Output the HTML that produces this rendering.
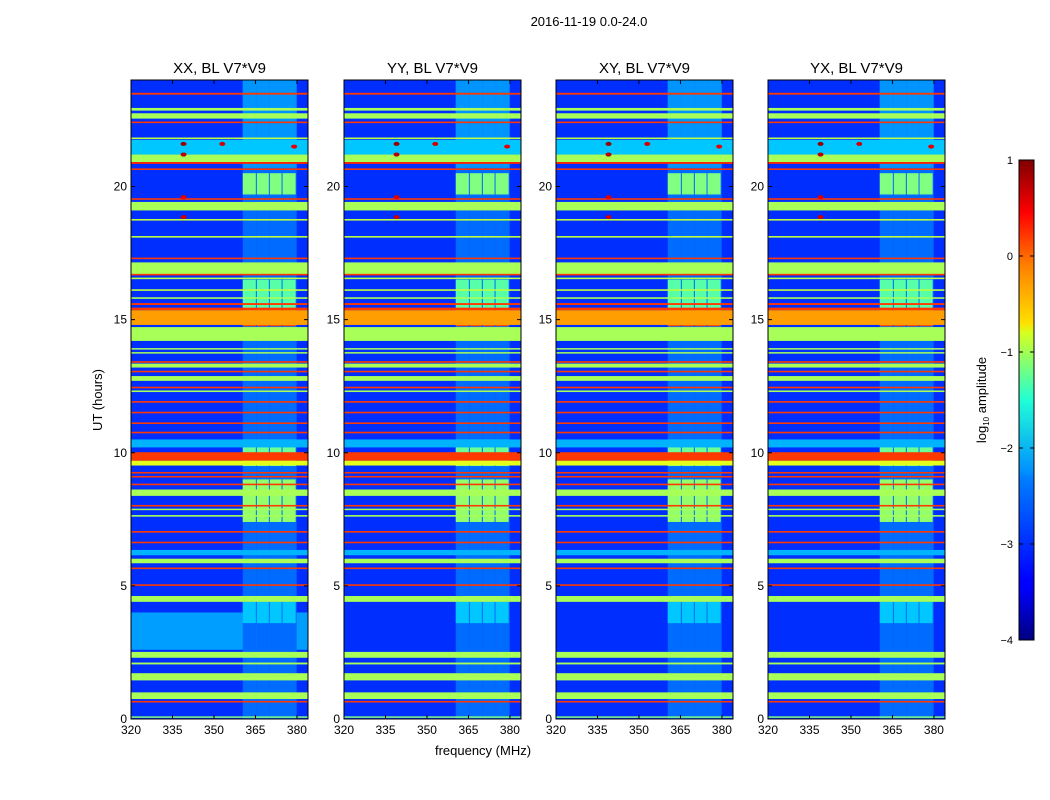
<!DOCTYPE html>
<html><head><meta charset="utf-8"><style>
html,body{margin:0;padding:0;background:#fff;}
svg{display:block;font-family:"Liberation Sans",sans-serif;}
</style></head><body>
<svg id="fig" width="1050" height="800" viewBox="0 0 1050 800">
<defs>
<linearGradient id="jet" x1="0" y1="1" x2="0" y2="0">
<stop offset="0" stop-color="#000080"/><stop offset="0.11" stop-color="#0000ff"/>
<stop offset="0.125" stop-color="#0000ff"/><stop offset="0.34" stop-color="#0080ff"/>
<stop offset="0.35" stop-color="#0090ff"/><stop offset="0.5" stop-color="#20ffd6"/>
<stop offset="0.64" stop-color="#d6ff20"/><stop offset="0.66" stop-color="#ffe000"/>
<stop offset="0.78" stop-color="#ff8000"/><stop offset="0.89" stop-color="#ff0000"/>
<stop offset="1" stop-color="#800000"/>
</linearGradient>
</defs>
<text x="589" y="26" text-anchor="middle" font-size="13">2016-11-19 0.0-24.0</text>
<g id="panels"></g>
<text x="483" y="755" text-anchor="middle" font-size="13">frequency (MHz)</text>
<text transform="translate(102,400) rotate(-90)" text-anchor="middle" font-size="13">UT (hours)</text>
<g>
<rect x="1019" y="160" width="15" height="480" fill="url(#jet)" stroke="#000" stroke-width="1"/>
<g id="cbticks"></g>
<text transform="translate(986,400) rotate(-90)" text-anchor="middle" font-size="13">log<tspan font-size="8" dy="3">10</tspan><tspan dy="-3"> amplitude</tspan></text>
</g>
</svg>
<script>
// ---- data ----
const panelTitles = ["XX, BL V7*V9","YY, BL V7*V9","XY, BL V7*V9","YX, BL V7*V9"];
const xTicks = [320,335,350,365,380];
const yTicks = [0,5,10,15,20];
const cbTicks = [-4,-3,-2,-1,0,1];
const backgroundVal = -3.15;
// horizontal bands (hours, log10 amplitude)
const bandStart = [23.45,22.85,22.55,22.38,21.78,21.2,20.9,20.85,20.62,19.5,19.1,18.72,18.08,17.27,16.7,16.66,16.52,16.08,15.78,15.55,15.35,14.8,14.2,13.88,13.73,13.38,13.2,13.02,12.7,12.42,12.28,11.88,11.48,11.08,10.73,10.2,9.7,9.52,9.22,9.07,8.78,8.38,7.98,7.85,7.6,7.0,6.6,6.15,5.85,5.63,5.0,4.4,2.3,2.05,1.45,0.75,0.62,0.05];
const bandEnd   = [23.52,22.95,22.75,22.44,21.84,21.75,21.2,20.92,20.68,19.56,19.42,18.78,18.14,17.33,17.15,16.72,16.58,16.14,15.84,15.62,15.45,15.35,14.72,13.93,13.78,13.44,13.35,13.08,12.88,12.48,12.34,11.94,11.54,11.14,10.79,10.5,10.02,9.7,9.28,9.13,8.84,8.62,8.04,7.9,7.66,7.06,6.66,6.35,6.02,5.69,5.06,4.62,2.52,2.12,1.72,1.0,0.68,0.1];
const bandVal   = [0.1,-1.3,-1.3,0.1,-1.2,-2.4,-1.3,0.2,0.1,0.1,-1.3,-1.2,-1.2,0.1,-1.3,0.1,-1.2,-1.2,-1.3,0.1,0.1,-0.4,-1.3,-1.3,-1.3,0.1,-1.3,0.1,-1.3,0.1,-1.3,0.1,0.1,0.1,0.1,-2.5,0.1,-1.0,0.1,0.1,0.1,-1.3,0.1,-1.3,-1.3,0.1,0.1,-2.5,-1.3,0.1,0.1,-1.3,-1.3,-1.3,-1.3,-1.3,0.1,-1.5];
// elevated RFI column segments (362-380 MHz)
const blockF0 = [360.4,365.5,370.2,374.8];
const blockF1 = [365.5,370.2,374.8,379.9];
const blockStart = [0.0,20.7,19.7,15.35,14.75,9.5,7.4,3.6];
const blockEnd   = [24.0,24.0,20.5,16.5,15.35,10.5,9.0,4.4];
const blockVal   = [-2.85,-2.65,-1.5,-1.7,0.0,-1.6,-1.4,-2.4];
// bright point sources (freq MHz, hours, value)
const srcF = [339,339,339,339,379,353];
const srcT = [21.6,21.2,19.6,18.85,21.5,21.6];
const srcV = [0.9,0.7,0.5,0.6,0.5,0.6];

// ---- colormap ----
function jet(v){
  let t=Math.max(0,Math.min(1,(v+4)/5));
  const f=x=>Math.max(0,Math.min(1,x));
  const r=f(Math.min(4*t-1.5,-4*t+4.5)),g=f(Math.min(4*t-0.5,-4*t+3.5)),b=f(Math.min(4*t+0.5,-4*t+2.5));
  return `rgb(${Math.round(r*255)},${Math.round(g*255)},${Math.round(b*255)})`;
}
const NS="http://www.w3.org/2000/svg";
function el(tag,attrs,parent){const e=document.createElementNS(NS,tag);for(const k in attrs)e.setAttribute(k,attrs[k]);parent.appendChild(e);return e;}

const panelX=[131,344,556,768], PW=177, PY0=80, PY1=719;
const panels=document.getElementById('panels');
panelX.forEach((px,pi)=>{
  const xs=f=>px+(f-320)/64*PW;
  const ys=h=>PY1-(h/24)*(PY1-PY0);
  const g=el('g',{},panels);
  
  
  const bg=el('rect',{x:px,y:PY0,width:PW,height:PY1-PY0,fill:jet(backgroundVal)},g);
  
  
  if(pi===0){
    const r=el('rect',{x:px,y:ys(4.0),width:PW,height:ys(2.6)-ys(4.0),fill:jet(-2.6)},g);
    
    
  }
  blockStart.forEach((s,i)=>{
    blockF0.forEach((f0,j)=>{
      const w=(i<2)?xs(blockF1[j])-xs(f0):xs(blockF1[j])-xs(f0)-1;
      const r=el('rect',{x:xs(f0),y:ys(blockEnd[i]),width:w,height:ys(s)-ys(blockEnd[i]),fill:jet(blockVal[i])},g);
      
      
    });
  });
  bandStart.forEach((s,i)=>{
    const y0=ys(bandEnd[i]),h=Math.max(1.5,ys(s)-y0);
    const r=el('rect',{x:px,y:y0,width:PW,height:h,fill:jet(bandVal[i])},g);
    
    
  });
  srcF.forEach((f,i)=>{
    const r=el('ellipse',{cx:xs(f),cy:ys(srcT[i]),rx:3,ry:2,fill:jet(srcV[i])},g);
    
    
  });
  el('rect',{x:px,y:PY0,width:PW,height:PY1-PY0,fill:'none',stroke:'#000','stroke-width':1},g);
  const t=el('text',{x:px+PW/2,y:73,'text-anchor':'middle','font-size':15},g);
  t.textContent=panelTitles[pi];
  
  
  xTicks.forEach(v=>{
    const x=xs(v);
    el('line',{x1:x,y1:PY1,x2:x,y2:PY1-4,stroke:'#000'},g);
    el('line',{x1:x,y1:PY0,x2:x,y2:PY0+4,stroke:'#000'},g);
    const tl=el('text',{x:x,y:PY1+15,'text-anchor':'middle','font-size':12},g);
    tl.textContent=v;
    
    
  });
  yTicks.forEach(v=>{
    const y=ys(v);
    el('line',{x1:px,y1:y,x2:px+4,y2:y,stroke:'#000'},g);
    el('line',{x1:px+PW,y1:y,x2:px+PW-4,y2:y,stroke:'#000'},g);
    const tl=el('text',{x:px-4,y:y+4,'text-anchor':'end','font-size':12},g);
    tl.textContent=v;
    
    
  });
});
const cb=document.getElementById('cbticks');
cbTicks.forEach(v=>{
  const y=640-(v+4)/5*480;
  el('line',{x1:1019,y1:y,x2:1023,y2:y,stroke:'#000'},cb);
  el('line',{x1:1034,y1:y,x2:1030,y2:y,stroke:'#000'},cb);
  const tl=el('text',{x:1013,y:y+4,'text-anchor':'end','font-size':11},cb);
  tl.textContent=v<0?'\u2212'+(-v):String(v);
  
  
});
</script>
</body></html>
